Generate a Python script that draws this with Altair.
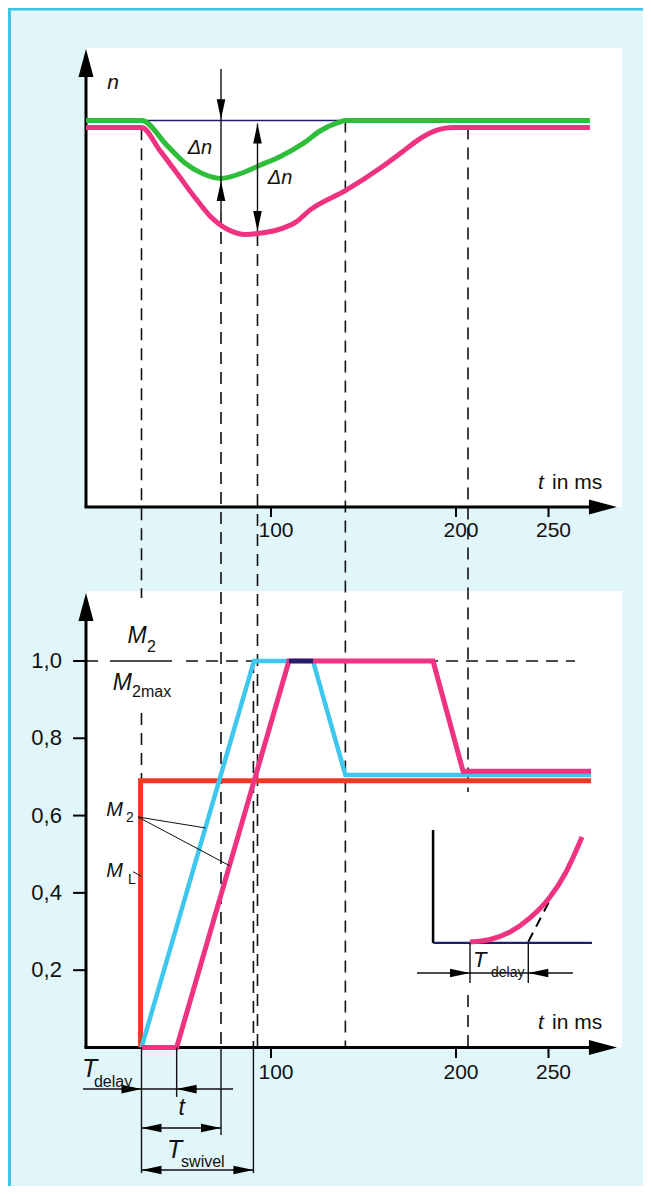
import altair as alt
import pandas as pd

# ---------------- data ----------------
# upper diagram: speed n (relative units) over t in ms
GREEN_T = [0, 30, 43.9, 53.5, 63.2, 73.2, 82.5, 94, 105.6, 117.2, 126.9, 136.5, 140.4, 272.4]
GREEN_N = [1.0, 1.0, 0.935, 0.89, 0.862, 0.85, 0.861, 0.884, 0.908, 0.94, 0.974, 0.995, 1.0, 1.0]
PINKN_T = [0, 30, 40, 49.7, 59.3, 67, 76.7, 86.3, 94, 105.6, 113.4, 121, 140.4, 159.7,
           171.3, 179, 188.6, 198.3, 272.4]
PINKN_N = [0.982, 0.982, 0.922, 0.86, 0.798, 0.753, 0.718, 0.705, 0.708, 0.72, 0.737, 0.768,
           0.819, 0.879, 0.92, 0.948, 0.973, 0.982, 0.982]

# lower diagram: M2 / M2max over t in ms
CYAN_T = [30, 90.8, 122.7, 140.2, 273]
CYAN_M = [0, 1.0, 1.0, 0.705, 0.705]
PINKM_T = [30, 49, 109.7, 187.6, 203.8, 273]
PINKM_M = [0, 0, 1.0, 1.0, 0.715, 0.715]
RED_T = [29.5, 29.5, 273]
RED_M = [0, 0.69, 0.69]
OVERLAP_T = [109.7, 122.7]
OVERLAP_M = [1.0, 1.0]

# inset: delayed start of the torque
INSET_T = [207.57, 218.38, 229.19, 240.0, 250.81, 258.92, 268.11]
INSET_M = [0.2730, 0.2794, 0.2988, 0.3351, 0.3894, 0.4489, 0.5446]

X_TICKS = [100, 200, 250]
Y_TICKS = [0.2, 0.4, 0.6, 0.8, 1.0]
Y_LABELS = ["0,2", "0,4", "0,6", "0,8", "1,0"]

# ---------------- layout / style ----------------
TOP = 1.3985            # vertical offset of the upper diagram (in lower-diagram units)
X_DOM = [-42.16, 301.08]
Y_DOM = [-0.3584, 2.6895]
W, H = 635, 1178
FONT = "Liberation Sans"
BG = "#e0f6fb"
BORDER = "#3ec3e4"
GREEN = "#2fbe3a"
PINK = "#ef3380"
CYAN = "#3dc6ee"
RED = "#f2381f"
NAVY = "#1f1f6e"
INK = "#111111"
DASH = [12, 8]

xs = alt.Scale(domain=X_DOM, nice=False, zero=False)
ys = alt.Scale(domain=Y_DOM, nice=False, zero=False)


def T(v):
    return v + TOP


def X(f):
    return alt.X(f, scale=xs, axis=None)


def Y(f):
    return alt.Y(f, scale=ys, axis=None)


def rules(rows, color=INK, width=1.4, dash=None, cap="butt"):
    df = pd.DataFrame(rows, columns=["x1", "y1", "x2", "y2"])
    kw = dict(color=color, strokeWidth=width, strokeCap=cap)
    if dash:
        kw["strokeDash"] = dash
    return alt.Chart(df).mark_rule(**kw).encode(
        x=X("x1:Q"), y=Y("y1:Q"), x2="x2:Q", y2="y2:Q")


def rects(rows, color):
    df = pd.DataFrame(rows, columns=["x1", "x2", "y1", "y2"])
    return alt.Chart(df).mark_rect(color=color, opacity=1).encode(
        x=X("x1:Q"), x2="x2:Q", y=Y("y1:Q"), y2="y2:Q")


def curve(ts, vs, color, width, interp="linear", off=0.0):
    df = pd.DataFrame({"t": ts, "v": [v + off for v in vs], "i": list(range(len(ts)))})
    return alt.Chart(df).mark_line(color=color, strokeWidth=width, interpolate=interp,
                                   strokeJoin="miter").encode(
        x=X("t:Q"), y=Y("v:Q"), order="i:Q")


HEAD = {
    "up": "M0,0L-0.27,1.25L0.27,1.25Z",
    "down": "M0,0L-0.27,-1.25L0.27,-1.25Z",
    "right": "M0,0L-1.25,-0.27L-1.25,0.27Z",
    "left": "M0,0L1.25,-0.27L1.25,0.27Z",
    "axis_up": "M0,0L-0.47,1.75L0.47,1.75Z",
    "axis_right": "M0,0L-1.75,-0.47L-1.75,0.47Z",
}


def heads(points, kind, size=1024):
    df = pd.DataFrame(points, columns=["x", "y"])
    return alt.Chart(df).mark_point(shape=HEAD[kind], size=size, filled=True, color="black",
                                    opacity=1, strokeWidth=0).encode(x=X("x:Q"), y=Y("y:Q"))


def texts(rows, italic=False, align="left", baseline="alphabetic", dx=0):
    df = pd.DataFrame(rows, columns=["x", "y", "label", "size"])
    return alt.Chart(df).mark_text(align=align, baseline=baseline, font=FONT, dx=dx,
                                   fontStyle="italic" if italic else "normal",
                                   color=INK).encode(
        x=X("x:Q"), y=Y("y:Q"), text="label:N", size=alt.Size("size:Q", scale=None))


layers = []

# frame border and white panels
layers.append(rules([(-41.4, Y_DOM[0], -41.4, Y_DOM[1]), (-42.16, 2.6869, 301.08, 2.6869)],
                    color=BORDER, width=3))
layers.append(rects([(0, 289.7, T(0), 2.586), (0, 289.7, 0, 1.181)], "white"))

# dashed guide lines
layers.append(rules([
    (30, T(0.98), 30, 1.163), (30, 0.8655, 30, 0.69),
    (72.97, T(0.763), 72.97, 0),
    (92.7, T(0.706), 92.7, 0),
    (90.5, 1.0, 90.5, 0),
    (140.2, T(1.0), 140.2, 0),
    (206.5, T(0.982), 206.5, 0.661), (206.5, 0.1358, 206.5, 0),
    (0, 1.0, 264.3, 1.0),
], width=1.6, dash=DASH))

# white box behind the M2/M2max label
layers.append(rects([(9.7, 54.05, 0.8655, 1.163)], "white"))

# axes (lines)
layers.append(rules([
    (0, T(0), 0, T(1.13)), (-0.8, T(0), 275, T(0)),
    (0, 0, 0, 1.12), (-0.8, 0, 275, 0),
], color="black", width=3))
layers.append(heads([(0, T(1.185)), (0, 1.176)], "axis_up"))
layers.append(heads([(287, T(0)), (287, 0)], "axis_right"))

# ticks
layers.append(rules([(t, T(0), t, T(-0.0259)) for t in X_TICKS]
                    + [(t, 0, t, -0.0272) for t in X_TICKS]
                    + [(-7.0, v, 0, v) for v in Y_TICKS], color="black", width=2))

# curves, upper diagram
layers.append(rules([(30, T(1.0), 140.2, T(1.0))], color=NAVY, width=1.6))
layers.append(curve(PINKN_T, PINKN_N, PINK, 5, "monotone", TOP))
layers.append(curve(GREEN_T, GREEN_N, GREEN, 5, "monotone", TOP))

# curves, lower diagram
layers.append(curve(RED_T, RED_M, RED, 5))
layers.append(curve(CYAN_T, CYAN_M, CYAN, 4.5))
layers.append(curve(PINKM_T, PINKM_M, PINK, 5))
layers.append(curve(OVERLAP_T, OVERLAP_M, NAVY, 4.5))

# inset
layers.append(rules([(187.6, 0.5627, 187.6, 0.2704)], color="black", width=2.5))
layers.append(rules([(187.6, 0.2704, 273.5, 0.2704)], color=NAVY, width=2.2))
layers.append(rules([(239.08, 0.2737, 263.41, 0.4981)], color="black", width=2, dash=[10, 7]))
layers.append(curve(INSET_T, INSET_M, PINK, 5, "monotone"))

# thin annotation lines
layers.append(rules([
    (72.97, T(1.133), 72.97, T(0.763)),
    (92.7, T(0.992), 92.7, T(0.714)),
    (30, 0, 30, -0.325), (49, 0, 49, -0.128), (72.97, 0, 72.97, -0.2264), (90.5, 0, 90.5, -0.325),
    (-1.6, -0.1076, 79.5, -0.1076),
    (30, -0.2083, 72.97, -0.2083),
    (30, -0.3169, 90.5, -0.3169),
    (207.57, 0.2704, 207.57, 0.1669), (239.08, 0.2704, 239.08, 0.1669),
    (178.9, 0.1928, 263.2, 0.1928),
    (13.0, 1.0, 46.5, 1.0),
], width=1.4))
layers.append(rules([
    (28.1, 0.5964, 64.6, 0.568), (28.1, 0.5964, 77.6, 0.4704), (25.4, 0.4549, 29.7, 0.4433),
], width=1))

# arrow heads of the dimension lines
layers.append(heads([(72.97, T(0.8435)), (92.7, T(0.992))], "up"))
layers.append(heads([(72.97, T(1.003)), (92.7, T(0.714))], "down"))
layers.append(heads([(30, -0.1076), (72.97, -0.2083), (90.5, -0.3169), (207.57, 0.1928)], "right"))
layers.append(heads([(49, -0.1076), (30, -0.2083), (30, -0.3169), (239.08, 0.1928)], "left"))

# texts
layers.append(texts([(14.6, T(1.097), "n", 21), (61.6, T(0.929), "Δn", 20),
                     (104.9, T(0.851), "Δn", 20)], italic=True, align="center", baseline="middle"))
layers.append(texts([(244.3, T(0.0621), "t", 21), (244.3, 0.0634, "t", 21)],
                    italic=True, baseline="middle"))
layers.append(texts([(251.9, T(0.0621), "in ms", 21), (251.9, 0.0634, "in ms", 21)],
                    baseline="middle"))
layers.append(texts([(t, T(-0.0621), str(t), 21) for t in X_TICKS]
                    + [(t, -0.066, str(t), 21) for t in X_TICKS],
                    align="center", baseline="middle", dx=5))
layers.append(texts([(-13.0, v, lab, 22) for v, lab in zip(Y_TICKS, Y_LABELS)],
                    align="right", baseline="middle"))
layers.append(texts([(27.6, 1.0466, "M", 23), (19.7, 0.925, "M", 23), (51.7, -0.1747, "t", 23)],
                    italic=True, align="center"))
layers.append(texts([(11.0, 0.599, "M", 20), (11.0, 0.441, "M", 20),
                     (-2.2, -0.0763, "T", 25), (43.8, -0.2859, "T", 25),
                     (209.2, 0.2083, "T", 22)], italic=True))
layers.append(texts([(33.0, 1.0233, "2", 16), (24.9, 0.9069, "2max", 16),
                     (21.6, 0.5834, "2", 14), (22.7, 0.423, "L", 14),
                     (4.3, -0.1023, "delay", 16), (51.4, -0.3092, "swivel", 16),
                     (218.9, 0.1824, "delay", 14)]))

chart = alt.layer(*layers).properties(
    width=W, height=H, padding=0, background=BG,
    autosize=alt.AutoSizeParams(type="none"),
).configure_view(strokeWidth=0)

chart.save("out.html", embed_options={"renderer": "svg", "actions": False})
